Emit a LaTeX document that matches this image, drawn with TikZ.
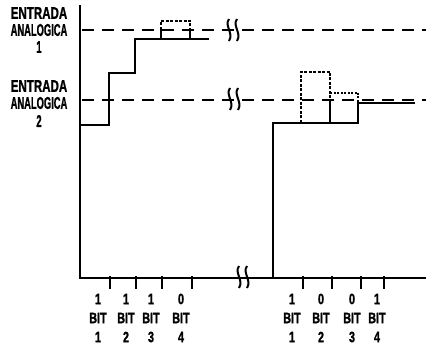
\documentclass[tikz,border=0pt]{standalone}
\usepackage{fontspec}
\setmainfont{Liberation Sans}
\newfontface\heavy[FakeBold=1.5]{Liberation Sans Bold}
\newcommand{\lbl}[2][0.55]{\scalebox{#1}[1]{\fontsize{17}{17}\heavy #2}}
\newcommand{\blbl}[1]{\scalebox{0.72}[1]{\fontsize{15}{15}\heavy #1}}
\tikzset{
  axisline/.style={line width=1.9pt},
  stepline/.style={line width=1.9pt},
  refline/.style={line width=1.6pt, dash pattern=on 12pt off 8pt},
  trialline/.style={line width=1.5pt, dash pattern=on 3pt off 1.5pt},
  bitlbl/.style={inner sep=0pt, anchor=center},
  inlbl/.style={inner sep=0pt, anchor=center},
  brk/.pic={
    \draw[line width=2pt] (-4,-11) .. controls (-9,-4) and (1,3) .. (-4,11);
    \draw[line width=2pt] (4,-11) .. controls (-1,-4) and (9,3) .. (4,11);
  }
}
\begin{document}
\begin{tikzpicture}[x=1pt,y=-1pt]
\useasboundingbox (0,0) rectangle (426,344);
% axes
\coordinate (otop) at (80,5);
\coordinate (o) at (80,278);
\coordinate (xend) at (426,278);
\draw[axisline] (otop) -- (o) -- (xend);
% reference (input) levels
\coordinate (r1a) at (82,30); \coordinate (r1b) at (426,30);
\coordinate (r2a) at (82,100); \coordinate (r2b) at (426,100);
\draw[refline] (r1a) -- (r1b);
\draw[refline] (r2a) -- (r2b);
% breaks
\pic at (233,30) {brk};
\pic at (234,99) {brk};
\pic at (243,277) {brk};
% left staircase (input 1)
\draw[stepline] (80,125) -- (109,125) -- (109,73) -- (135,73) -- (135,39) -- (209,39);
\draw[trialline] (161,39) -- (161,21) -- (190,21) -- (190,39);
\draw[line width=1.3pt] (161,29) -- (161,39);
\draw[line width=1.3pt] (190,29) -- (190,39);
% right staircase (input 2)
\draw[stepline] (273,278) -- (273,123) -- (358,123) -- (358,103) -- (415,103);
\draw[trialline] (301,123) -- (301,72) -- (330,72) -- (330,100);
\draw[line width=1.3pt] (330,100) -- (330,123);
\draw[trialline, dash pattern=on 2pt off 1.5pt] (330,93) -- (358,93) -- (358,103);
% ticks
\foreach \x in {110,136,162,192,303,332,361,384}
  \draw[line width=1.3pt] (\x,276) -- (\x,289);
% input labels
\node[inlbl] (e1a) at (39,13) {\lbl[0.68]{ENTRADA}};
\node[inlbl] (e1b) at (39,30) {\lbl{ANALOGICA}};
\node[inlbl] (e1c) at (39,47) {\lbl{1}};
\node[inlbl] (e2a) at (39,86) {\lbl[0.68]{ENTRADA}};
\node[inlbl] (e2b) at (39,103) {\lbl{ANALOGICA}};
\node[inlbl] (e2c) at (39,121) {\lbl{2}};
% bit labels left
\foreach \x/\v/\n [count=\i] in {98/1/1,126/1/2,151/1/3,181/0/4}{
  \node[bitlbl] (lv\i) at (\x,299) {\blbl{\v}};
  \node[bitlbl] (lb\i) at (\x,318) {\blbl{BIT}};
  \node[bitlbl] (ln\i) at (\x,337) {\blbl{\n}};
}
% bit labels right
\foreach \x/\v/\n [count=\i] in {292/1/1,321/0/2,352/0/3,377/1/4}{
  \node[bitlbl] (rv\i) at (\x,299) {\blbl{\v}};
  \node[bitlbl] (rb\i) at (\x,318) {\blbl{BIT}};
  \node[bitlbl] (rn\i) at (\x,337) {\blbl{\n}};
}
\end{tikzpicture}
\end{document}
